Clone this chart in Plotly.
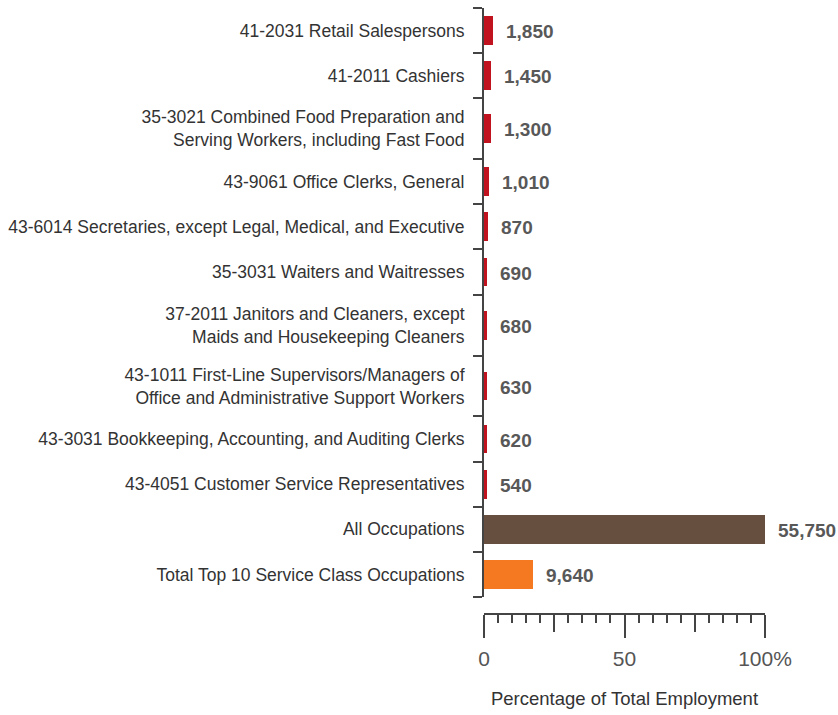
import plotly.graph_objects as go

# Occupations, top to bottom, with employment counts
categories = [
    "41-2031 Retail Salespersons",
    "41-2011 Cashiers",
    "35-3021 Combined Food Preparation and<br>Serving Workers, including Fast Food",
    "43-9061 Office Clerks, General",
    "43-6014 Secretaries, except Legal, Medical, and Executive",
    "35-3031 Waiters and Waitresses",
    "37-2011 Janitors and Cleaners, except<br>Maids and Housekeeping Cleaners",
    "43-1011 First-Line Supervisors/Managers of<br>Office and Administrative Support Workers",
    "43-3031 Bookkeeping, Accounting, and Auditing Clerks",
    "43-4051 Customer Service Representatives",
    "All Occupations",
    "Total Top 10 Service Class Occupations",
]
employment = [1850, 1450, 1300, 1010, 870, 690, 680, 630, 620, 540, 55750, 9640]
total_employment = 55750

x_tick_values = [0, 50, 100]
x_tick_labels = ["0", "50", "100%"]

RED = "#C1121F"
BROWN = "#674F3F"
ORANGE = "#F47920"
bar_colors = [RED] * 10 + [BROWN, ORANGE]

pct = [v / total_employment * 100 for v in employment]

# Rows with two-line labels get a taller slot
slot = [1.0 + 0.35 * (c.count("<br>")) for c in categories]
centers, bounds = [], [0.0]
acc = 0.0
for s in slot:
    centers.append(acc + s / 2)
    acc += s
    bounds.append(acc)
total_h = acc

LABEL_FONT = "Liberation Sans, Arial, sans-serif"

fig = go.Figure()
fig.add_trace(go.Bar(
    x=pct, y=centers, orientation="h",
    width=0.64,
    marker=dict(color=bar_colors, line=dict(width=0)),
    hoverinfo="skip", showlegend=False,
))
# carrier trace for the secondary x axis (mid ticks at 25 / 75)
fig.add_trace(go.Scatter(x=[None], y=[None], xaxis="x2", yaxis="y",
                         showlegend=False, hoverinfo="skip"))

for p, c, v in zip(pct, centers, employment):
    fig.add_annotation(
        x=p, y=c, text=f"<b>{v:,}</b>", showarrow=False,
        xanchor="left", yanchor="middle", xshift=11, yshift=-1,
        font=dict(family=LABEL_FONT, size=19, color="#585858"),
    )

fig.update_layout(
    width=838, height=715,
    margin=dict(l=484, r=73, t=8, b=101),
    paper_bgcolor="white", plot_bgcolor="white",
    bargap=0,
    xaxis=dict(
        range=[0, 100], anchor="free", position=0, side="bottom",
        showgrid=False, zeroline=False,
        showline=True, linecolor="#444", linewidth=2,
        tickmode="array", tickvals=x_tick_values, ticktext=x_tick_labels,
        ticks="outside", ticklen=23, tickwidth=2, tickcolor="#444",
        ticklabelstandoff=3,
        minor=dict(dtick=5, tick0=0, ticks="outside", ticklen=8,
                   tickwidth=2, tickcolor="#444", showgrid=False),
        tickfont=dict(family=LABEL_FONT, size=21, color="#555"),
        title=dict(text="Percentage of Total Employment", standoff=22,
                   font=dict(family=LABEL_FONT, size=18.5, color="#333")),
        automargin=False,
    ),
    xaxis2=dict(
        range=[0, 100], overlaying="x", anchor="free", position=0, side="bottom",
        showgrid=False, zeroline=False, showline=False,
        tickmode="array", tickvals=[25, 75],
        ticks="outside", ticklen=17, tickwidth=2, tickcolor="#444",
        showticklabels=False,
    ),
    yaxis=dict(
        range=[total_h, 0], domain=[17 / 606, 1],
        showgrid=False, zeroline=False,
        showline=True, linecolor="#444", linewidth=2,
        tickmode="array", tickvals=centers, ticktext=categories,
        ticks="", ticklabelstandoff=14,
        minor=dict(tickmode="array", tickvals=bounds, ticks="outside",
                   ticklen=9, tickwidth=2, tickcolor="#444", showgrid=False),
        tickfont=dict(family=LABEL_FONT, size=17.5, color="#333"),
        automargin=False,
    ),
)

fig.write_html("out.html")
